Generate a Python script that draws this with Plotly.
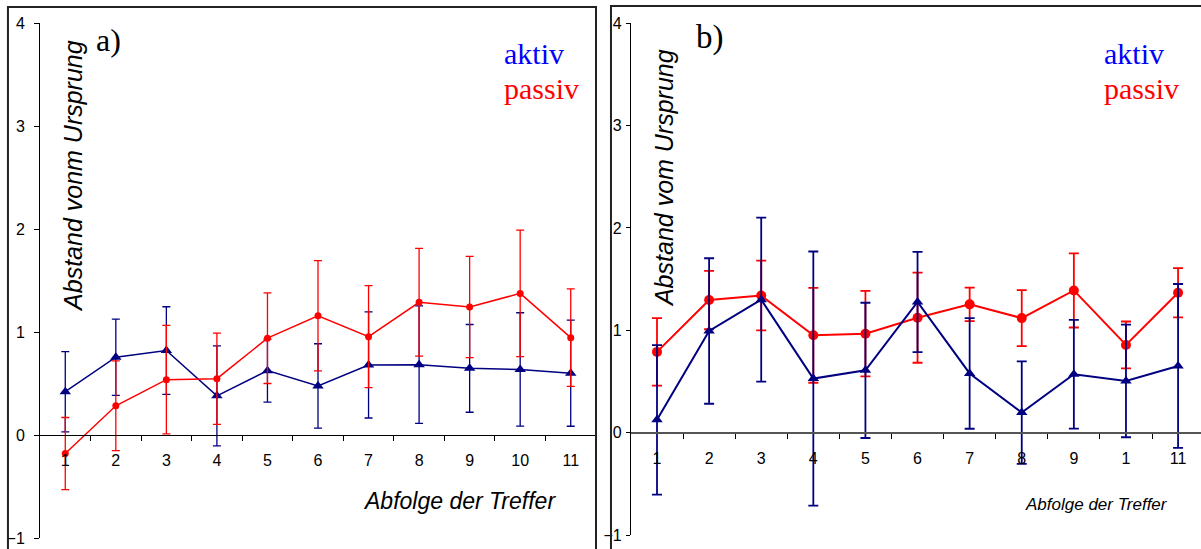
import plotly.graph_objects as go

# ---------------- data ----------------
hits = list(range(1, 12))
tick_a = ["1", "2", "3", "4", "5", "6", "7", "8", "9", "10", "11"]
tick_b = ["1", "2", "3", "4", "5", "6", "7", "8", "9", "1", "11"]
y_ticks = [-1, 0, 1, 2, 3, 4]
boundaries = [1.5, 2.5, 3.5, 4.5, 5.5, 6.5, 7.5, 8.5, 9.5, 10.5]

# panel a)
a_aktiv_mean = [0.42, 0.755, 0.82, 0.38, 0.625, 0.476, 0.68, 0.683, 0.647, 0.637, 0.60]
a_aktiv_err = [0.39, 0.37, 0.425, 0.486, 0.305, 0.41, 0.515, 0.57, 0.426, 0.55, 0.515]
a_passiv_mean = [-0.18, 0.284, 0.537, 0.547, 0.94, 1.158, 0.955, 1.288, 1.243, 1.375, 0.945]
a_passiv_err = [0.35, 0.436, 0.527, 0.443, 0.44, 0.535, 0.495, 0.523, 0.491, 0.615, 0.473]

# panel b)
b_aktiv_mean = [0.127, 0.994, 1.30, 0.53, 0.61, 1.277, 0.58, 0.198, 0.572, 0.507, 0.653]
b_aktiv_err = [0.73, 0.71, 0.80, 1.24, 0.66, 0.49, 0.54, 0.50, 0.53, 0.55, 0.80]
b_passiv_mean = [0.79, 1.296, 1.34, 0.952, 0.968, 1.124, 1.254, 1.12, 1.39, 0.858, 1.367]
b_passiv_err = [0.33, 0.285, 0.34, 0.463, 0.417, 0.44, 0.163, 0.273, 0.362, 0.229, 0.24]

NAVY = "#000080"
RED = "#FF0000"
SANS = "Liberation Sans, Arial, sans-serif"
SERIF = "Liberation Serif, Times New Roman, serif"

fig = go.Figure()


def add(x, y, err, color, symbol, size, lw, xa, ya, capw, thick):
    fig.add_trace(go.Scatter(
        x=x, y=y, mode="lines+markers",
        line=dict(color=color, width=lw),
        marker=dict(symbol=symbol, size=size, color=color, line=dict(width=0)),
        error_y=dict(type="data", array=err, visible=True, color=color,
                     thickness=thick, width=capw),
        xaxis=xa, yaxis=ya, showlegend=False, hoverinfo="x+y"))


# panel a: blue first, red on top
add(hits, a_aktiv_mean, a_aktiv_err, NAVY, "triangle-up", 10, 1.5, "x", "y", 4, 1.3)
add(hits, a_passiv_mean, a_passiv_err, RED, "circle", 7, 1.5, "x", "y", 4, 1.3)
# panel b: red first, blue on top
add(hits, b_passiv_mean, b_passiv_err, RED, "circle", 10, 2, "x2", "y2", 5, 1.8)
add(hits, b_aktiv_mean, b_aktiv_err, NAVY, "triangle-up", 10, 2, "x2", "y2", 5, 1.8)

xcommon = dict(showgrid=False, zeroline=False, showline=True, anchor="free",
               tickmode="array", tickvals=hits, ticks="",
               tickfont=dict(family=SANS, size=16, color="black"),
               ticklabelstandoff=11,
               minor=dict(tickmode="array", tickvals=boundaries, ticks="outside",
                          ticklen=5, tickwidth=1, tickcolor="black"))
ycommon = dict(showgrid=False, zeroline=False, showline=True, linecolor="black",
               linewidth=1, range=[-1, 4], tickmode="array", tickvals=y_ticks,
               ticks="outside", tickcolor="black",
               tickfont=dict(family=SANS, size=16, color="black"))

fig.update_layout(
    width=1201, height=549,
    margin=dict(l=40, r=0, t=23, b=11),
    paper_bgcolor="white", plot_bgcolor="white",
    xaxis=dict(**xcommon, domain=[0, 0.4789], range=[0.5, 11.5], position=0.2,
               linecolor="black", linewidth=1, ticktext=tick_a),
    yaxis=dict(**ycommon, domain=[0, 1], anchor="x", ticklen=5, ticklabelstandoff=6),
    xaxis2=dict(**xcommon, domain=[0.509, 1], range=[0.5, 11.44], position=0.2042,
                linecolor="#555555", linewidth=1.5, ticktext=tick_b),
    yaxis2=dict(**ycommon, domain=[0.0052, 1], anchor="x2", ticklen=4, ticklabelstandoff=1),
)

# panel frames
fig.add_shape(type="rect", xref="paper", yref="paper", x0=-0.0276, x1=0.4789,
              y0=-0.05, y1=1.031, line=dict(color="#222222", width=2), layer="above")
fig.add_shape(type="rect", xref="paper", yref="paper", x0=0.4918, x1=1.03,
              y0=-0.05, y1=1.033, line=dict(color="#222222", width=2), layer="above")

ann = []
# panel letters
ann.append(dict(text="a)", x=0.0586, y=0.967, font=dict(family=SERIF, size=32, color="black")))
ann.append(dict(text="b)", x=0.577, y=0.9728, font=dict(family=SERIF, size=33, color="black")))
# legend-like labels
for xl in (0.3979, 0.9147):
    ann.append(dict(text="aktiv", x=xl, y=0.94, xanchor="left",
                    font=dict(family=SERIF, size=30, color="#0000FF")))
    ann.append(dict(text="passiv", x=xl, y=0.872, xanchor="left",
                    font=dict(family=SERIF, size=30, color=RED)))
# axis titles
ann.append(dict(text="<i>Abstand vonm Ursprung</i>", x=0.0284, y=0.703, textangle=-90,
                font=dict(family=SANS, size=25, color="black")))
ann.append(dict(text="<i>Abstand vom Ursprung</i>", x=0.5375, y=0.699, textangle=-90,
                font=dict(family=SANS, size=25, color="black")))
ann.append(dict(text="<i>Abfolge der Treffer</i>", x=0.3609, y=0.0718,
                font=dict(family=SANS, size=23, color="black")))
ann.append(dict(text="<i>Abfolge der Treffer</i>", x=0.9096, y=0.0641,
                font=dict(family=SANS, size=17, color="black")))

for a in ann:
    a.setdefault("xanchor", "center")
    a.update(xref="paper", yref="paper", yanchor="middle", showarrow=False)
fig.update_layout(annotations=ann)

fig.write_html("out.html")
